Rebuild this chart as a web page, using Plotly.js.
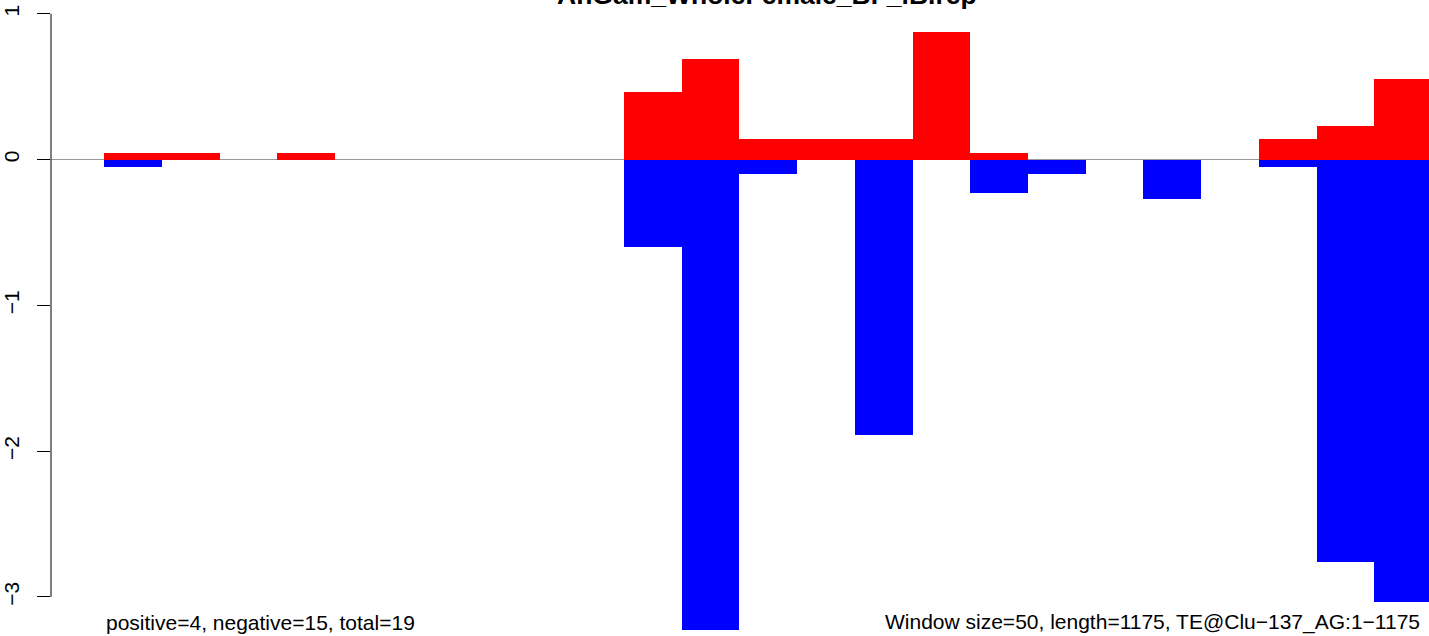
<!DOCTYPE html>
<html>
<head>
<meta charset="utf-8">
<script src="https://cdn.plot.ly/plotly-3.0.1.min.js"></script>
<style>
html,body{margin:0;padding:0;overflow:hidden;background:#fff;}
#chart{width:1429px;height:636px;}
</style>
</head>
<body>
<div id="chart"></div>
<script>
// Window start positions (bp), window size 50
var windowStarts = [0,50,100,150,200,250,300,350,400,450,500,550,600,650,700,750,800,850,900,950,1000,1050,1100];
var positiveValues = [0.046,0.046,null,0.046,null,null,null,null,null,0.464,0.69,0.144,0.144,0.144,0.876,0.046,null,null,null,null,0.144,0.231,0.553];
var negativeValues = [-0.05,null,null,null,null,null,null,null,null,-0.599,-3.227,-0.098,null,-1.888,null,-0.233,-0.096,null,-0.274,null,-0.05,-2.764,-3.038];
var yTicks = [1,0,-1,-2,-3];
var titleText = "AnGam_WholeFemale_BF_iB.rep";
var leftNote = "positive=4, negative=15, total=19";
var rightNote = "Window size=50, length=1175, TE@Clu\u2212137_AG:1\u22121175";
var windowSize = 50;

var centers = windowStarts.map(function(s){return s + windowSize/2;});

var traces = [
  {type:'bar', x:centers, y:positiveValues, width:windowSize, marker:{color:'#ff0000', line:{width:0}}, hoverinfo:'y', showlegend:false},
  {type:'bar', x:centers, y:negativeValues, width:windowSize, marker:{color:'#0000ff', line:{width:0}}, hoverinfo:'y', showlegend:false}
];

var plotH = 630;
function py(px){ return 1 - px/plotH; } // pixel from top -> paper y
var plotW = 1429 - 51;
function pxX(px){ return (px - 51)/plotW; }

var layout = {
  width:1429, height:636,
  margin:{l:51, r:0, t:0, b:6, pad:0},
  paper_bgcolor:'#ffffff', plot_bgcolor:'#ffffff',
  barmode:'overlay', bargap:0,
  font:{family:'Liberation Sans, Arial, sans-serif', color:'#000'},
  xaxis:{range:[-45.9,1147.2], showgrid:false, zeroline:false, showline:false, showticklabels:false, ticks:'', fixedrange:true},
  yaxis:{range:[-3.227,1.094], tickvals:yTicks, ticktext:yTicks.map(function(v){return v<0?'\u2212'+Math.abs(v):String(v);}),
         ticks:'outside', ticklen:13, tickwidth:1, tickcolor:'#000', tickangle:-90,
         ticklabelstandoff:10,
         tickfont:{size:21, family:'Liberation Sans, Arial, sans-serif', color:'#000'},
         showgrid:false, zeroline:false, showline:false, fixedrange:true},
  shapes:[
    {type:'line', xref:'paper', yref:'y', x0:0, x1:1, y0:0, y1:0, line:{color:'#999999', width:1}, layer:'below'},
    {type:'line', xref:'paper', yref:'y', x0:0, x1:0, y0:-3, y1:1, line:{color:'#000', width:1}}
  ],
  annotations:[
    {text:'<b>'+titleText+'</b>', xref:'paper', yref:'paper', x:pxX(767), y:py(12), xanchor:'center', yanchor:'bottom', showarrow:false, font:{size:26.5, color:'#000'}},
    {text:leftNote, xref:'paper', yref:'paper', x:pxX(104), y:py(622), xanchor:'left', yanchor:'middle', showarrow:false, font:{size:21, color:'#000'}},
    {text:rightNote, xref:'paper', yref:'paper', x:pxX(883), y:py(622), xanchor:'left', yanchor:'middle', showarrow:false, font:{size:21, color:'#000'}}
  ]
};

Plotly.newPlot('chart', traces, layout, {displayModeBar:false, staticPlot:true});
</script>
</body>
</html>
